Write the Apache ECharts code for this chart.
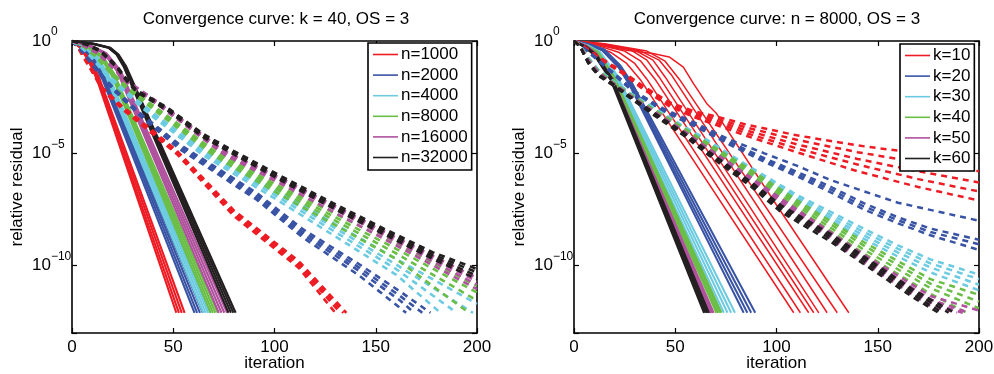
<!DOCTYPE html>
<html><head><meta charset="utf-8">
<script src="https://cdn.jsdelivr.net/npm/echarts@6/dist/echarts.min.js"></script>
<style>html,body{margin:0;padding:0;background:#fff}#c{width:994px;height:374px}</style>
</head><body><div id="c"></div>
<script>
// ---------------- DATA ----------------
// every curve: list of [iteration, log10(relative residual)]
const xTicks = [0, 50, 100, 150, 200];
const yTickExponents = [0, -5, -10];
const leftTitle = 'Convergence curve: k = 40, OS = 3';
const rightTitle = 'Convergence curve: n = 8000, OS = 3';
const leftLegend = ['n=1000', 'n=2000', 'n=4000', 'n=8000', 'n=16000', 'n=32000'];
const rightLegend = ['k=10', 'k=20', 'k=30', 'k=40', 'k=50', 'k=60'];

// ---- left panel, solid curves ----
const leftSolid_n1000 = [
  [[0,0],[4,-0.3],[8,-0.85],[12.5,-1.75],[51.5,-12.1]],
  [[0,0],[4,-0.28],[8,-0.8],[12.8,-1.75],[52.8,-12.1]],
  [[0,0],[5,-0.3],[9,-0.8],[13.2,-1.7],[54.2,-12.1]],
  [[0,0],[5,-0.28],[9,-0.75],[13.5,-1.65],[55.6,-12.1]]
];
const leftSolid_n2000 = [
  [[0,0],[5,-0.25],[10,-0.8],[15,-1.7],[60.5,-12.1]],
  [[0,0],[5,-0.25],[10,-0.78],[15.5,-1.66],[61.8,-12.1]],
  [[0,0],[5,-0.22],[10,-0.75],[15.8,-1.62],[63.2,-12.1]],
  [[0,0],[6,-0.25],[11,-0.75],[16.2,-1.6],[64.6,-12.1]]
];
const leftSolid_n4000 = [
  [[0,0],[6,-0.25],[12,-0.8],[17,-1.62],[64.8,-12.1]],
  [[0,0],[6,-0.24],[12,-0.78],[17.5,-1.6],[66,-12.1]],
  [[0,0],[6,-0.22],[12,-0.75],[17.8,-1.56],[67.2,-12.1]],
  [[0,0],[7,-0.24],[13,-0.76],[18.2,-1.55],[68.2,-12.1]]
];
const leftSolid_n8000 = [
  [[0,0],[7,-0.22],[14,-0.7],[19.5,-1.52],[68.5,-12.1]],
  [[0,0],[7,-0.2],[14,-0.68],[20,-1.5],[69.6,-12.1]],
  [[0,0],[7,-0.2],[14,-0.65],[20.3,-1.46],[70.8,-12.1]],
  [[0,0],[8,-0.22],[15,-0.66],[20.8,-1.45],[72,-12.1]]
];
const leftSolid_n16000 = [
  [[0,0],[8,-0.2],[16,-0.56],[22.5,-1.38],[72.5,-12.1]],
  [[0,0],[8,-0.19],[16,-0.55],[23,-1.35],[73.8,-12.1]],
  [[0,0],[8,-0.18],[16,-0.52],[23.4,-1.32],[75.2,-12.1]],
  [[0,0],[9,-0.19],[17,-0.54],[24,-1.32],[76.6,-12.1]]
];
const leftSolid_n32000 = [
  [[0,0],[10,-0.12],[18,-0.3],[22,-0.6],[25.6,-1.16],[77.3,-12.1]],
  [[0,0],[10,-0.12],[18,-0.3],[22.2,-0.6],[26,-1.16],[78.5,-12.1]],
  [[0,0],[10,-0.11],[18.5,-0.3],[22.6,-0.6],[26.4,-1.15],[79.7,-12.1]],
  [[0,0],[11,-0.12],[19,-0.3],[23,-0.6],[26.8,-1.14],[80.8,-12.1]]
];
// ---- left panel, dashed curves ----
const leftDashed_n1000 = [
  [[0,0],[3,-0.3],[6,-0.78],[10,-1.38],[15,-2.18],[25,-3.05],[40,-4.15],[52,-5.05],[80,-7.8],[112,-10.1],[130,-12.1]],
  [[0,0],[3,-0.3],[6,-0.75],[10,-1.35],[15,-2.15],[25,-3.0],[40,-4.1],[52,-5],[80,-7.7],[112,-10],[132.5,-12.1]],
  [[0,0],[3,-0.28],[6,-0.72],[10,-1.32],[15,-2.1],[25,-2.95],[40,-4.05],[52,-4.95],[80,-7.62],[112,-9.9],[134,-12.1]],
  [[0,0],[3,-0.28],[6,-0.7],[10,-1.3],[15,-2.08],[25,-2.92],[40,-4.0],[52,-4.9],[80,-7.55],[112,-9.8],[135.5,-12.1]]
];
const leftDashed_n2000 = [
  [[0,0],[4,-0.36],[8,-0.82],[13,-1.42],[20,-2.14],[35,-3.45],[53,-4.8],[91,-7.05],[114,-8.75],[142,-10.45],[165,-12.1]],
  [[0,0],[4,-0.35],[8,-0.8],[13,-1.4],[20,-2.1],[35,-3.4],[53,-4.72],[91,-6.95],[114,-8.62],[142,-10.25],[162,-11.55],[169,-12.1]],
  [[0,0],[4,-0.34],[8,-0.78],[13,-1.38],[20,-2.07],[35,-3.36],[53,-4.66],[91,-6.85],[114,-8.5],[142,-10.1],[162,-11.35],[173,-12.1]],
  [[0,0],[4,-0.33],[8,-0.76],[13,-1.35],[20,-2.04],[35,-3.32],[53,-4.6],[91,-6.75],[114,-8.38],[142,-9.95],[162,-11.15],[177,-12.1]]
];
const leftDashed_n4000 = [
  [[0,0],[5,-0.32],[10,-0.78],[16,-1.43],[24,-2.15],[40,-3.38],[65,-5.1],[100,-7.0],[130,-8.7],[160,-10.4],[182,-12.1]],
  [[0,0],[5,-0.3],[10,-0.75],[16,-1.4],[24,-2.1],[40,-3.3],[65,-5.0],[100,-6.85],[130,-8.5],[160,-10.15],[190,-12.1]],
  [[0,0],[5,-0.29],[10,-0.73],[16,-1.37],[24,-2.06],[40,-3.25],[65,-4.93],[100,-6.72],[130,-8.33],[160,-9.95],[198,-12.1]],
  [[0,0],[5,-0.28],[10,-0.7],[16,-1.34],[24,-2.02],[40,-3.2],[65,-4.86],[100,-6.6],[130,-8.15],[160,-9.7],[200,-11.7]]
];
const leftDashed_n8000 = [
  [[0,0],[6,-0.27],[12,-0.72],[18,-1.33],[26,-2.04],[42,-3.17],[70,-5.1],[100,-6.7],[130,-8.2],[160,-9.7],[196,-12.1]],
  [[0,0],[6,-0.25],[12,-0.7],[18,-1.3],[26,-2.0],[42,-3.1],[70,-5.0],[100,-6.55],[130,-8.0],[160,-9.45],[200,-11.55]],
  [[0,0],[6,-0.24],[12,-0.68],[18,-1.27],[26,-1.96],[42,-3.05],[70,-4.93],[100,-6.45],[130,-7.85],[160,-9.25],[200,-11.2]],
  [[0,0],[6,-0.23],[12,-0.66],[18,-1.24],[26,-1.92],[42,-3.0],[70,-4.86],[100,-6.35],[130,-7.7],[160,-9.05],[200,-10.9]]
];
const leftDashed_n16000 = [
  [[0,0],[6,-0.22],[13,-0.58],[20,-1.18],[28,-1.95],[44,-2.95],[75,-5.05],[104,-6.4],[130,-7.65],[160,-9.1],[200,-11.05]],
  [[0,0],[6,-0.2],[13,-0.55],[20,-1.15],[28,-1.9],[44,-2.9],[75,-5.0],[104,-6.3],[130,-7.5],[160,-8.95],[200,-10.85]],
  [[0,0],[6,-0.19],[13,-0.53],[20,-1.12],[28,-1.86],[44,-2.86],[75,-4.94],[104,-6.22],[130,-7.42],[160,-8.85],[200,-10.7]],
  [[0,0],[6,-0.18],[13,-0.51],[20,-1.09],[28,-1.82],[44,-2.82],[75,-4.88],[104,-6.15],[130,-7.35],[160,-8.75],[200,-10.55]]
];
const leftDashed_n32000 = [
  [[0,0],[7,-0.16],[14,-0.47],[22,-1.17],[27,-1.78],[32,-2.28],[40,-2.7],[48,-3.15],[65,-4.3],[80,-5.05],[104,-6.25],[129,-7.45],[154,-8.6],[178,-9.7],[200,-10.6]],
  [[0,0],[7,-0.15],[14,-0.45],[22,-1.15],[27,-1.75],[32,-2.25],[40,-2.65],[48,-3.1],[65,-4.25],[80,-5.0],[104,-6.18],[129,-7.38],[154,-8.52],[178,-9.6],[200,-10.45]],
  [[0,0],[7,-0.14],[14,-0.43],[22,-1.12],[27,-1.72],[32,-2.22],[40,-2.62],[48,-3.06],[65,-4.2],[80,-4.95],[104,-6.12],[129,-7.3],[154,-8.42],[178,-9.5],[200,-10.3]],
  [[0,0],[7,-0.13],[14,-0.41],[22,-1.1],[27,-1.7],[32,-2.2],[40,-2.6],[48,-3.02],[65,-4.15],[80,-4.9],[104,-6.05],[129,-7.22],[154,-8.35],[178,-9.4],[200,-10.15]]
];

// ---- right panel, solid curves ----
const rightSolid_k10 = [
  [[0,0],[8,-0.15],[18,-0.5],[26,-1.0],[33,-1.75],[108.5,-12.1]],
  [[0,0],[10,-0.15],[22,-0.5],[30,-1.0],[36,-1.7],[111.8,-12.1]],
  [[0,0],[10,-0.12],[25,-0.45],[33,-0.9],[40,-1.7],[115.9,-12.1]],
  [[0,0],[12,-0.12],[28,-0.4],[36,-0.85],[42,-1.6],[118.4,-12.1]],
  [[0,0],[12,-0.12],[30,-0.4],[39,-0.85],[45,-1.6],[120.9,-12.1]],
  [[0,0],[14,-0.12],[33,-0.45],[42,-0.85],[48,-1.5],[125,-12.1]],
  [[0,0],[15,-0.12],[36,-0.45],[45,-0.9],[52,-1.7],[130,-12.1]],
  [[0,0],[9,-0.12],[26,-0.41],[39,-0.56],[47,-0.71],[54,-1.16],[59,-1.9],[65.5,-2.78],[70.4,-3.23],[100,-7.3],[135.7,-12.1]]
];
const rightSolid_k20 = [
  [[0,0],[7,-0.16],[14,-0.42],[22,-1.17],[27.2,-1.92],[83.8,-12.1]],
  [[0,0],[7,-0.15],[14,-0.4],[22,-1.15],[27.5,-1.9],[85.6,-12.1]],
  [[0,0],[7,-0.14],[14,-0.38],[22.5,-1.13],[28,-1.88],[87.5,-12.1]],
  [[0,0],[8,-0.15],[15,-0.38],[23,-1.1],[28.5,-1.85],[89.5,-12.1]]
];
const rightSolid_k30 = [
  [[0,0],[6,-0.21],[12,-0.52],[19.6,-1.52],[74,-12.1]],
  [[0,0],[6,-0.2],[12,-0.5],[20,-1.5],[75.8,-12.1]],
  [[0,0],[6,-0.19],[12.5,-0.5],[20.4,-1.48],[77.6,-12.1]],
  [[0,0],[7,-0.2],[13,-0.5],[20.8,-1.46],[79.5,-12.1]]
];
const rightSolid_k40 = [
  [[0,0],[5,-0.21],[11,-0.52],[18.8,-1.62],[70.3,-12.1]],
  [[0,0],[5,-0.2],[11,-0.5],[19,-1.6],[71.1,-12.1]],
  [[0,0],[5,-0.19],[11.5,-0.5],[19.3,-1.58],[72,-12.1]],
  [[0,0],[6,-0.2],[12,-0.5],[19.6,-1.56],[72.8,-12.1]]
];
const rightSolid_k50 = [
  [[0,0],[5,-0.21],[10,-0.56],[18.4,-1.72],[67.2,-12.1]],
  [[0,0],[5,-0.2],[10,-0.55],[18.6,-1.7],[67.8,-12.1]],
  [[0,0],[5,-0.19],[10.5,-0.55],[18.8,-1.69],[68.5,-12.1]],
  [[0,0],[6,-0.2],[11,-0.55],[19,-1.68],[69,-12.1]]
];
const rightSolid_k60 = [
  [[0,0],[5,-0.26],[10,-0.62],[18.3,-1.77],[64.2,-12.1]],
  [[0,0],[5,-0.25],[10,-0.6],[18.6,-1.75],[65,-12.1]],
  [[0,0],[5,-0.24],[10.5,-0.6],[18.9,-1.74],[65.8,-12.1]],
  [[0,0],[6,-0.25],[11,-0.6],[19.2,-1.73],[66.6,-12.1]]
];
// ---- right panel, dashed curves ----
const rightDashed_k10 = [
  [[0,0],[5,-0.25],[12,-0.7],[24,-1.36],[34,-2.0],[47,-2.72],[59,-3.12],[72,-3.4],[85,-3.72],[110,-4.2],[140,-4.65],[170,-5.0],[200,-5.3]],
  [[0,0],[5,-0.25],[12,-0.7],[24,-1.38],[34,-2.04],[47,-2.78],[59,-3.2],[72,-3.5],[85,-3.85],[110,-4.4],[140,-4.95],[170,-5.4],[200,-5.8]],
  [[0,0],[5,-0.26],[12,-0.72],[24,-1.4],[34,-2.07],[47,-2.82],[59,-3.26],[72,-3.6],[85,-3.98],[110,-4.6],[140,-5.25],[170,-5.8],[200,-6.3]],
  [[0,0],[5,-0.26],[12,-0.73],[24,-1.42],[34,-2.1],[47,-2.86],[59,-3.32],[72,-3.7],[85,-4.1],[110,-4.78],[140,-5.5],[170,-6.15],[200,-6.7]],
  [[0,0],[5,-0.27],[12,-0.75],[24,-1.45],[34,-2.14],[47,-2.9],[59,-3.38],[72,-3.8],[85,-4.22],[110,-4.95],[140,-5.8],[170,-6.5],[200,-7.1]]
];
const rightDashed_k20 = [
  [[0,0],[4,-0.25],[9,-0.6],[18,-1.3],[31,-2.3],[44,-3.0],[61,-3.7],[77,-4.4],[94,-5.0],[110,-5.55],[127,-6.2],[160,-7.2],[200,-8.0]],
  [[0,0],[4,-0.26],[9,-0.62],[18,-1.32],[31,-2.33],[44,-3.05],[61,-3.78],[77,-4.5],[94,-5.22],[110,-5.82],[127,-6.5],[143,-7.22],[160,-7.85],[176,-8.35],[200,-8.85]],
  [[0,0],[4,-0.27],[9,-0.63],[18,-1.34],[31,-2.36],[44,-3.08],[61,-3.82],[77,-4.56],[94,-5.3],[110,-5.92],[127,-6.62],[143,-7.36],[160,-7.98],[176,-8.5],[200,-9.05]],
  [[0,0],[4,-0.28],[9,-0.65],[18,-1.36],[31,-2.4],[44,-3.12],[61,-3.86],[77,-4.62],[94,-5.38],[110,-6.02],[127,-6.75],[143,-7.5],[160,-8.12],[176,-8.65],[200,-9.3]]
];
const rightDashed_k30 = [
  [[0,0],[3,-0.2],[7,-0.72],[12,-1.28],[18,-1.68],[28,-2.33],[40,-3.0],[52,-3.68],[64,-4.3],[84,-5.45],[110,-6.85],[127,-7.62],[143,-8.35],[160,-9.1],[176,-9.72],[200,-10.4]],
  [[0,0],[3,-0.2],[7,-0.75],[12,-1.3],[18,-1.7],[28,-2.35],[40,-3.02],[52,-3.72],[64,-4.35],[84,-5.52],[110,-6.95],[127,-7.75],[143,-8.5],[160,-9.25],[176,-9.9],[200,-10.6]],
  [[0,0],[3,-0.21],[7,-0.77],[12,-1.32],[18,-1.72],[28,-2.38],[40,-3.05],[52,-3.76],[64,-4.4],[84,-5.6],[110,-7.05],[127,-7.88],[143,-8.65],[160,-9.42],[176,-10.08],[200,-10.85]],
  [[0,0],[3,-0.21],[7,-0.78],[12,-1.34],[18,-1.74],[28,-2.4],[40,-3.08],[52,-3.8],[64,-4.46],[84,-5.68],[110,-7.15],[127,-8.0],[143,-8.8],[160,-9.6],[176,-10.3],[200,-11.1]]
];
const rightDashed_k40 = [
  [[0,0],[3,-0.2],[7,-0.79],[12,-1.34],[18,-1.74],[28,-2.38],[39,-3.02],[54,-3.86],[67,-4.6],[87,-5.72],[110,-7.08],[143,-8.95],[176,-10.6],[200,-11.3]],
  [[0,0],[3,-0.2],[7,-0.8],[12,-1.35],[18,-1.75],[28,-2.4],[39,-3.05],[54,-3.9],[67,-4.65],[87,-5.8],[110,-7.2],[143,-9.1],[176,-10.8],[200,-11.6]],
  [[0,0],[3,-0.21],[7,-0.82],[12,-1.37],[18,-1.77],[28,-2.43],[39,-3.09],[54,-3.95],[67,-4.72],[87,-5.9],[110,-7.32],[143,-9.28],[176,-11.0],[200,-11.9]],
  [[0,0],[3,-0.21],[7,-0.83],[12,-1.38],[18,-1.79],[28,-2.46],[39,-3.13],[54,-4.0],[67,-4.78],[87,-5.98],[110,-7.45],[143,-9.45],[176,-11.25],[194,-12.1]]
];
const rightDashed_k50 = [
  [[0,0],[3,-0.22],[7,-0.84],[12,-1.39],[18,-1.79],[28,-2.44],[39,-3.1],[54,-3.98],[67,-4.82],[87,-6.05],[110,-7.5],[143,-9.5],[176,-11.35],[200,-12.0]],
  [[0,0],[3,-0.22],[7,-0.85],[12,-1.4],[18,-1.8],[28,-2.45],[39,-3.12],[54,-4.02],[67,-4.86],[87,-6.1],[110,-7.58],[143,-9.62],[176,-11.5],[195,-12.1]],
  [[0,0],[3,-0.23],[7,-0.86],[12,-1.42],[18,-1.82],[28,-2.47],[39,-3.15],[54,-4.06],[67,-4.9],[87,-6.16],[110,-7.66],[143,-9.75],[176,-11.65],[192,-12.1]],
  [[0,0],[3,-0.23],[7,-0.87],[12,-1.43],[18,-1.83],[28,-2.5],[39,-3.18],[54,-4.1],[67,-4.95],[87,-6.22],[110,-7.75],[143,-9.88],[176,-11.8],[189,-12.1]]
];
const rightDashed_k60 = [
  [[0,0],[3,-0.24],[7,-0.92],[12,-1.47],[18,-1.83],[28,-2.48],[39,-3.16],[54,-4.06],[67,-4.95],[87,-6.25],[102,-7.3],[127,-8.6],[150,-10.0],[168,-11.1],[188,-12.1]],
  [[0,0],[3,-0.25],[7,-0.95],[12,-1.5],[18,-1.85],[28,-2.5],[39,-3.2],[54,-4.1],[67,-5.0],[87,-6.3],[102,-7.4],[127,-8.7],[150,-10.1],[168,-11.2],[185,-12.1]],
  [[0,0],[3,-0.25],[7,-0.97],[12,-1.52],[18,-1.88],[28,-2.53],[39,-3.24],[54,-4.15],[67,-5.06],[87,-6.38],[102,-7.5],[127,-8.82],[150,-10.22],[168,-11.32],[182,-12.1]],
  [[0,0],[3,-0.26],[7,-0.99],[12,-1.55],[18,-1.9],[28,-2.56],[39,-3.28],[54,-4.2],[67,-5.12],[87,-6.45],[102,-7.6],[127,-8.95],[150,-10.35],[168,-11.45],[180,-12.1]]
];

// ---------------- STYLE ----------------
const colors = ['#ed1c24', '#3953a4', '#6ccbe0', '#6abd45', '#b0519e', '#231f20'];
const FONT = '"Liberation Sans", Arial, Helvetica, sans-serif';
const FS = 17;

const leftSolid = [leftSolid_n1000, leftSolid_n2000, leftSolid_n4000, leftSolid_n8000, leftSolid_n16000, leftSolid_n32000];
const leftDashed = [leftDashed_n1000, leftDashed_n2000, leftDashed_n4000, leftDashed_n8000, leftDashed_n16000, leftDashed_n32000];
const rightSolid = [rightSolid_k10, rightSolid_k20, rightSolid_k30, rightSolid_k40, rightSolid_k50, rightSolid_k60];
const rightDashed = [rightDashed_k10, rightDashed_k20, rightDashed_k30, rightDashed_k40, rightDashed_k50, rightDashed_k60];

const series = [];
function addCurves(curves, color, dashed, panel, legendName, width) {
  curves.forEach((c, i) => {
    series.push({
      type: 'line',
      name: (!dashed && i === 0) ? legendName : ('_' + panel + '_' + color + (dashed ? 'd' : 's') + i),
      xAxisIndex: panel * 2, yAxisIndex: panel * 2,
      // y axis shows decades below 1 (inverse), i.e. -log10(residual)
      data: c.map(p => [p[0], -p[1]]),
      symbol: 'none', showSymbol: false, silent: true, animation: false,
      z: dashed ? 3 : 2,
      lineStyle: dashed
        ? { color: color, width: width, type: [6, 5], dashOffset: 0 }
        : { color: color, width: width, type: 'solid' },
      itemStyle: { color: color }
    });
  });
}
for (let g = 0; g < 6; g++) addCurves(leftSolid[g], colors[g], false, 0, leftLegend[g], 2.1);
for (let g = 0; g < 6; g++) addCurves(leftDashed[g], colors[g], true, 0, leftLegend[g], 2.6);
for (let g = 0; g < 6; g++) addCurves(rightSolid[g], colors[g], false, 1, rightLegend[g], g === 0 ? 1.5 : 2);
for (let g = 0; g < 6; g++) addCurves(rightDashed[g], colors[g], true, 1, rightLegend[g], 2.5);

const axisLine = { show: true, onZero: false, lineStyle: { color: '#000', width: 1.6 } };
const tick = { show: true, inside: true, length: 5, lineStyle: { color: '#000', width: 1.2 } };

function xAxes(gi) {
  return [
    { gridIndex: gi, type: 'value', position: 'bottom', min: xTicks[0], max: xTicks[xTicks.length - 1], interval: 50,
      axisLine, axisTick: tick, splitLine: { show: false },
      axisLabel: { fontSize: FS, fontFamily: FONT, color: '#000', margin: 6 },
      name: 'iteration', nameLocation: 'middle', nameGap: 22, nameMoveOverlap: false,
      nameTextStyle: { fontSize: FS, fontFamily: FONT, color: '#000' } },
    { gridIndex: gi, type: 'value', position: 'top', min: xTicks[0], max: xTicks[xTicks.length - 1], interval: 50,
      axisLine, axisTick: tick, splitLine: { show: false }, axisLabel: { show: false } }
  ];
}
function yAxes(gi) {
  return [
    { gridIndex: gi, type: 'value', position: 'left', inverse: true, min: 0, max: 13, interval: 5,
      axisLine, axisTick: tick, splitLine: { show: false },
      axisLabel: {
        margin: 40, align: 'left',
        formatter: v => {
          if (!yTickExponents.includes(-v)) return '';
          return '{b|10}{s|' + (v === 0 ? '0' : '\u2212' + v) + '}';
        },
        rich: {
          b: { fontSize: FS, fontFamily: FONT, color: '#000', lineHeight: 30 },
          s: { fontSize: 12, fontFamily: FONT, color: '#000', lineHeight: 12, verticalAlign: 'top' }
        }
      },
      name: 'relative residual', nameLocation: 'middle', nameGap: 46, nameMoveOverlap: false,
      nameTextStyle: { fontSize: FS, fontFamily: FONT, color: '#000' } },
    { gridIndex: gi, type: 'value', position: 'right', inverse: true, min: 0, max: 13, interval: 5,
      axisLine, axisTick: tick, splitLine: { show: false }, axisLabel: { show: false } }
  ];
}

function legend(names, left, top) {
  return {
    data: names, orient: 'vertical', left: left, top: top,
    icon: 'rect', itemWidth: 25, itemHeight: 1.6,
    padding: [3, 4, 4, 5], itemGap: 3.6,
    backgroundColor: '#fff', borderColor: '#000', borderWidth: 1.6, borderRadius: 0,
    selectedMode: false,
    textStyle: { fontSize: FS, fontFamily: FONT, color: '#000', padding: [0, 0, 0, -2] }
  };
}

const option = {
  animation: false,
  backgroundColor: '#fff',
  title: [
    { text: leftTitle, left: 276, top: 11, textAlign: 'center', padding: 0,
      textStyle: { fontSize: FS, fontWeight: 'normal', fontFamily: FONT, color: '#000' } },
    { text: rightTitle, left: 777, top: 11, textAlign: 'center', padding: 0,
      textStyle: { fontSize: FS, fontWeight: 'normal', fontFamily: FONT, color: '#000' } }
  ],
  legend: [legend(leftLegend, 368, 43), legend(rightLegend, 900, 44)],
  grid: [
    { left: 72, top: 41, width: 405, height: 292, containLabel: false, outerBoundsMode: 'none' },
    { left: 574, top: 41, width: 405, height: 292, containLabel: false, outerBoundsMode: 'none' }
  ],
  xAxis: [...xAxes(0), ...xAxes(1)],
  yAxis: [...yAxes(0), ...yAxes(1)],
  series: series
};

const chart = echarts.init(document.getElementById('c'), null, { renderer: 'canvas' });
chart.setOption(option);
</script>
</body></html>
